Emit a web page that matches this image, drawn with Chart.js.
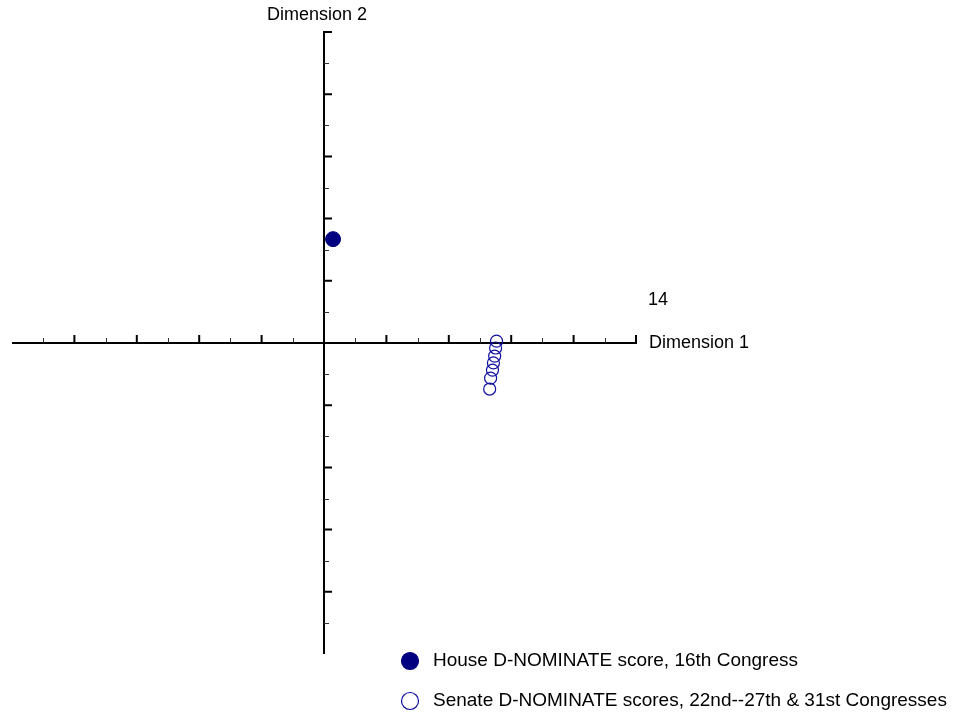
<!DOCTYPE html>
<html>
<head>
<meta charset="utf-8">
<script src="https://cdn.jsdelivr.net/npm/chart.js@4/dist/chart.umd.min.js"></script>
<style>
  html, body { margin: 0; padding: 0; background: #ffffff; }
  canvas { display: block; }
</style>
</head>
<body>
<canvas id="chart" width="953" height="713"></canvas>
<script>
// D-NOMINATE coordinates (Dimension 1, Dimension 2)
const houseX = [0.029];
const houseY = [0.334];
const senateX = [0.553, 0.550, 0.547, 0.543, 0.540, 0.534, 0.531];
const senateY = [0.006, -0.016, -0.042, -0.064, -0.087, -0.113, -0.148];

const seriesLabels = [
  'House D-NOMINATE score, 16th Congress',
  'Senate D-NOMINATE scores, 22nd--27th & 31st Congresses'
];

// Tick positions along both axes
const majorTicks = [-0.8, -0.6, -0.4, -0.2, 0.2, 0.4, 0.6, 0.8, 1.0];
const minorTicks = [-0.9, -0.7, -0.5, -0.3, -0.1, 0.1, 0.3, 0.5, 0.7, 0.9];

const axisTitleX = 'Dimension 1';
const axisTitleY = 'Dimension 2';
const cornerLabel = '14';

const FONT = '18px "Liberation Sans", Arial, sans-serif';
const LEGEND_FONT = '19px "Liberation Sans", Arial, sans-serif';
const NAVY = '#000080';

function pairs(xs, ys) {
  return xs.map((x, i) => ({ x: x, y: ys[i] }));
}

// Cross-shaped axes through the origin, with tick marks
const crossAxes = {
  id: 'crossAxes',
  beforeDatasetsDraw(chart) {
    const ctx = chart.ctx;
    const xs = chart.scales.x, ys = chart.scales.y;
    const x0 = xs.getPixelForValue(0), y0 = ys.getPixelForValue(0);
    const xl = xs.getPixelForValue(-1), xr = xs.getPixelForValue(1);
    const yt = ys.getPixelForValue(1), yb = ys.getPixelForValue(-1);
    ctx.save();
    ctx.strokeStyle = '#000000';
    ctx.lineCap = 'butt';
    // axis lines
    ctx.lineWidth = 2;
    ctx.beginPath();
    ctx.moveTo(xl, y0); ctx.lineTo(xr + 1, y0);
    ctx.moveTo(x0, yt - 1); ctx.lineTo(x0, yb);
    ctx.stroke();
    // major ticks
    ctx.lineWidth = 2;
    ctx.beginPath();
    majorTicks.forEach(v => {
      const px = xs.getPixelForValue(v);
      ctx.moveTo(px, y0); ctx.lineTo(px, y0 - 8);
      const py = ys.getPixelForValue(v);
      ctx.moveTo(x0, py); ctx.lineTo(x0 + 8, py);
    });
    ctx.stroke();
    // minor ticks
    ctx.lineWidth = 1;
    ctx.strokeStyle = '#333333';
    ctx.beginPath();
    minorTicks.forEach(v => {
      const px = Math.round(xs.getPixelForValue(v)) + 0.5;
      ctx.moveTo(px, y0); ctx.lineTo(px, y0 - 5);
      const py = Math.round(ys.getPixelForValue(v)) + 0.5;
      ctx.moveTo(x0, py); ctx.lineTo(x0 + 5, py);
    });
    ctx.stroke();
    ctx.restore();
  },
  afterDraw(chart) {
    const ctx = chart.ctx;
    const xs = chart.scales.x, ys = chart.scales.y;
    const x0 = xs.getPixelForValue(0), y0 = ys.getPixelForValue(0);
    const xr = xs.getPixelForValue(1), yt = ys.getPixelForValue(1);
    ctx.save();
    ctx.fillStyle = '#000000';
    ctx.font = FONT;
    ctx.textBaseline = 'middle';
    ctx.textAlign = 'left';
    ctx.fillText(axisTitleX, xr + 13, y0);
    ctx.fillText(cornerLabel, xr + 12, y0 - 43);
    ctx.textAlign = 'center';
    ctx.fillText(axisTitleY, x0 - 7, yt - 17);

    // legend
    ctx.font = LEGEND_FONT;
    const items = chart.data.datasets;
    const lx = 410, ly = [661, 701];
    items.forEach((ds, i) => {
      ctx.beginPath();
      ctx.arc(lx, ly[i], 8.5, 0, Math.PI * 2);
      if (ds.backgroundColor !== 'transparent') {
        ctx.fillStyle = ds.backgroundColor;
        ctx.fill();
      }
      ctx.lineWidth = 1.2;
      ctx.strokeStyle = ds.borderColor;
      ctx.stroke();
      ctx.fillStyle = '#000000';
      ctx.textAlign = 'left';
      ctx.fillText(ds.label, lx + 23, ly[i]);
    });
    ctx.restore();
  }
};

new Chart(document.getElementById('chart'), {
  type: 'scatter',
  data: {
    datasets: [
      {
        label: seriesLabels[0],
        data: pairs(houseX, houseY),
        backgroundColor: NAVY,
        borderColor: NAVY,
        borderWidth: 1,
        pointRadius: 7.5,
        pointHoverRadius: 7.5
      },
      {
        label: seriesLabels[1],
        data: pairs(senateX, senateY),
        backgroundColor: 'transparent',
        borderColor: '#1010a0',
        borderWidth: 1.2,
        pointRadius: 6,
        pointHoverRadius: 6
      }
    ]
  },
  options: {
    responsive: false,
    animation: false,
    devicePixelRatio: 1,
    layout: { padding: { left: 12, right: 317, top: 32, bottom: 59 } },
    scales: {
      x: { type: 'linear', min: -1, max: 1, display: false },
      y: { type: 'linear', min: -1, max: 1, display: false }
    },
    plugins: {
      legend: { display: false },
      tooltip: { enabled: false }
    },
    clip: false
  },
  plugins: [crossAxes]
});
</script>
</body>
</html>
